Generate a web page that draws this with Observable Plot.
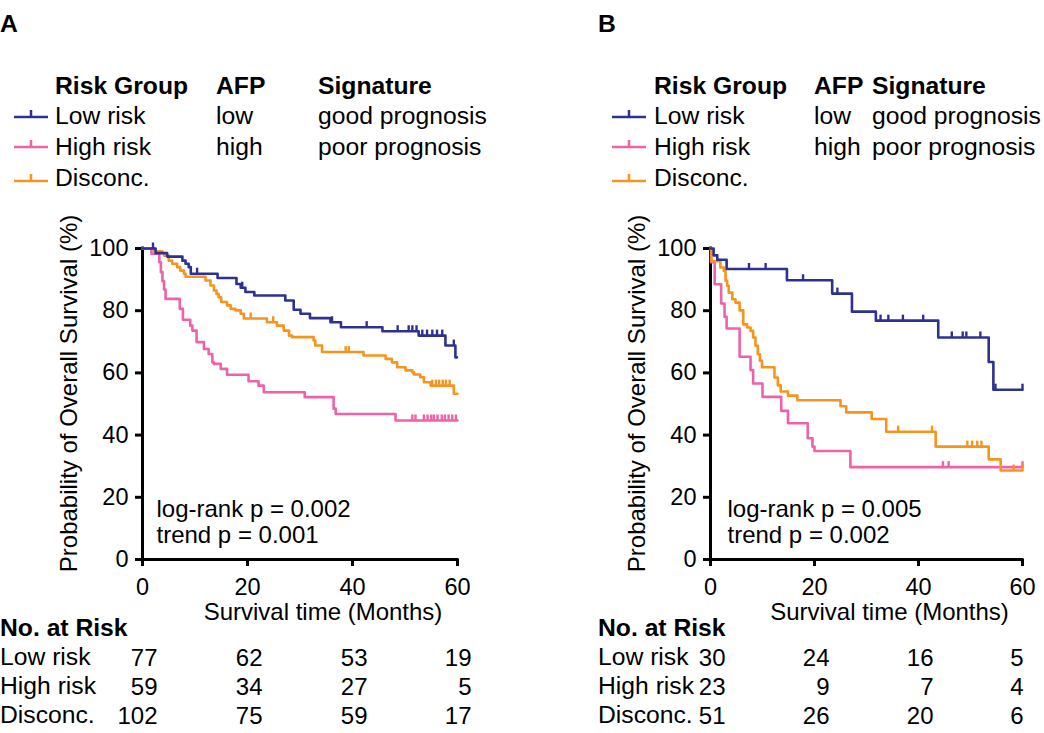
<!DOCTYPE html>
<html><head><meta charset="utf-8">
<script src="https://cdn.jsdelivr.net/npm/d3@7"></script>
<script src="https://cdn.jsdelivr.net/npm/@observablehq/plot@0.6"></script>
<style>
body{margin:0;background:#fff;}
#root{position:relative;width:1044px;height:733px;font-family:"Liberation Sans",Arial,Helvetica,sans-serif;color:#000;overflow:hidden;background:#fff;}
.abs{position:absolute;white-space:nowrap;font-size:24.7px;line-height:24px;}
.b{font-weight:bold;}
.panel{position:absolute;top:0;width:522px;height:733px;}
</style></head><body><div id="root"></div><script>
// ---------- data ----------
const groups = ["Low risk", "High risk", "Disconc."];
const afpLabels = ["low", "high", ""];
const signatureLabels = ["good prognosis", "poor prognosis", ""];
const riskTimes = [0, 20, 40, 60];
const yTicks = [0, 20, 40, 60, 80, 100];

// Panel A
const A_low_t = [0, 2.5, 4.7, 7.6, 8.2, 8.8, 9.2, 14.3, 17.9, 18.7, 19.6, 21.3, 27.2, 28.8, 30.1, 31.9, 35.8, 37.8, 45.7, 52.6, 57.7, 59.6, 59.9];
const A_low_s = [100, 98.5, 97.4, 96.1, 95.1, 94.0, 91.9, 90.5, 88.6, 87.4, 86.0, 84.9, 83.3, 80.3, 79.0, 77.6, 76.3, 74.7, 73.4, 72.0, 68.8, 65.0, 65.0];
const A_low_c = [2, 10.4, 19.0, 36.1, 42.7, 48.6, 50.7, 51.4, 52.2, 53.3, 54.2, 55.2, 56.1, 57.1, 59.3];
const A_high_t = [0, 1.7, 3.2, 3.5, 3.8, 4.1, 4.4, 7.1, 7.7, 9.1, 9.5, 10.3, 11.7, 12.6, 13.3, 13.6, 14.9, 16.1, 20.2, 22.1, 23.1, 30.9, 36.4, 36.8, 48.2, 60];
const A_high_s = [100, 98.3, 95.6, 92.4, 89.5, 86.8, 83.8, 80.6, 77.1, 75.2, 73.6, 69.9, 67.7, 66.1, 63.4, 62.9, 61.3, 59.4, 57.3, 55.9, 53.8, 52.2, 48.5, 46.8, 44.7, 44.7];
const A_high_c = [51.4, 52.0, 53.6, 54.3, 55.0, 55.5, 56.2, 57.0, 57.6, 58.3, 59.0, 59.7];
const A_disc_t = [0, 2.2, 3.75, 4.1, 5.0, 5.65, 6.6, 7.2, 7.9, 8.2, 12.0, 12.95, 13.6, 14.1, 14.5, 15.0, 16.1, 16.8, 17.7, 18.7, 19.3, 23.7, 25.6, 26.9, 27.9, 28.5, 32.6, 32.9, 34.2, 42.1, 46.3, 47.5, 48.5, 50.1, 51.4, 51.7, 52.9, 53.6, 54.9, 59.3, 60];
const A_disc_s = [100, 99.1, 98.5, 97.7, 96.1, 95.1, 94.0, 92.9, 91.9, 90.9, 89.7, 88.1, 86.5, 85.4, 84.3, 82.8, 81.7, 80.6, 80.1, 79.0, 77.5, 76.3, 75.2, 73.6, 72.0, 71.5, 70.4, 68.8, 66.7, 65.6, 64.5, 63.4, 61.8, 60.8, 60.2, 59.5, 58.6, 57.0, 55.9, 53.3, 53.3];
const A_disc_c = [20.6, 24.9, 38.7, 39.3, 55.2, 55.9, 56.5, 57.2, 57.8, 58.5];
const A_risk_low = [77, 62, 53, 19];
const A_risk_high = [59, 34, 27, 5];
const A_risk_disc = [102, 75, 59, 17];
const A_pvalues = ["log-rank p = 0.002", "trend p = 0.001"];

// Panel B
const B_low_t = [0, 0.6, 1.3, 3.1, 14.7, 23.4, 27.2, 31.8, 43.8, 53.5, 54.4, 60];
const B_low_s = [100, 97.8, 96.4, 93.4, 89.8, 85.5, 79.7, 76.8, 71.4, 63.5, 54.6, 54.6];
const B_low_c = [7.4, 10.6, 17.8, 24.4, 32.7, 34.2, 37.0, 40.9, 46.4, 48.5, 49.2, 51.9, 54.8, 60];
const B_high_t = [0, 0.1, 0.8, 2.05, 2.7, 3.1, 5.6, 7.7, 8.2, 10.0, 13.6, 14.9, 18.7, 19.6, 20.0, 26.9, 60];
const B_high_s = [100, 95.6, 88.5, 82.3, 78.0, 74.3, 65.2, 60.9, 56.6, 52.3, 47.8, 43.8, 39.0, 36.3, 34.9, 29.7, 29.7];
const B_high_c = [44.7, 45.8, 60];
const B_disc_t = [0, 0.2, 1.9, 2.56, 2.9, 3.2, 3.5, 4.2, 4.8, 5.6, 6.3, 7.05, 7.7, 8.2, 8.65, 9.1, 9.5, 9.9, 12.3, 12.95, 13.5, 14.9, 16.7, 25.0, 26.1, 31.0, 33.8, 43.3, 53.5, 55.8, 60];
const B_disc_s = [100, 95.9, 93.9, 92.8, 89.6, 88.0, 85.8, 83.7, 82.6, 80.1, 75.6, 74.6, 73.5, 71.4, 68.7, 66.0, 63.9, 61.8, 58.5, 56.0, 54.0, 52.7, 51.2, 49.3, 47.3, 45.2, 41.1, 36.3, 32.2, 28.6, 28.6];
const B_disc_c = [36.1, 42.6, 49.4, 50.3, 51.3, 52.1, 58.3, 60];
const B_risk_low = [30, 24, 16, 5];
const B_risk_high = [23, 9, 7, 4];
const B_risk_disc = [51, 26, 20, 6];
const B_pvalues = ["log-rank p = 0.005", "trend p = 0.002"];

// ---------- styling ----------
const colors = ["#2e3192", "#ef62aa", "#f7941d"];
const FONT = '"Liberation Sans", Arial, Helvetica, sans-serif';
const censorTick = { draw(ctx) { ctx.moveTo(0, 0); ctx.lineTo(0, -6); } };

function stepAt(ts, ss, t) {
  let v = ss[0];
  for (let i = 0; i < ts.length; i++) if (ts[i] <= t) v = ss[i];
  return v;
}

function kmPanel(cfg) {
  const series = [
    {g: groups[0], t: cfg.low[0], s: cfg.low[1], c: cfg.low[2]},
    {g: groups[1], t: cfg.high[0], s: cfg.high[1], c: cfg.high[2]},
    {g: groups[2], t: cfg.disc[0], s: cfg.disc[1], c: cfg.disc[2]}
  ];
  const drawOrder = [series[1], series[2], series[0]];
  const lineData = drawOrder.flatMap(ser => ser.t.map((t, i) => ({t, s: ser.s[i], g: ser.g})));
  const censorData = drawOrder.flatMap(ser => ser.c.map(t => ({t, s: stepAt(ser.t, ser.s, t), g: ser.g})));
  const rowDy = [99.3, 128.3, 157.3];
  const txt = {lineAnchor: "middle", fontSize: 24};
  const cellMarks = [];
  cfg.counts.forEach((row, r) => {
    const cells = riskTimes.map((t, j) => ({t, n: row[j]}));
    const base = {...txt, x: "t", text: d => String(d.n), frameAnchor: "bottom", textAnchor: "end", dy: rowDy[r]};
    cellMarks.push(Plot.text(cells.filter(d => d.t < 60), {...base, dx: cfg.numDx}));
    cellMarks.push(Plot.text(cells.filter(d => d.t === 60), {...base, dx: cfg.lastDx}));
  });
  return Plot.plot({
    width: 522, height: 733,
    marginLeft: cfg.ml, marginRight: cfg.mr, marginTop: 248, marginBottom: 174,
    x: {domain: [0, 60]},
    y: {domain: [0, 100]},
    color: {domain: groups, range: colors},
    style: {fontFamily: FONT, fontSize: "23px", background: "transparent", color: "#000", overflow: "visible"},
    marks: [
      Plot.axisY({ticks: yTicks, tickSize: 7, tickPadding: 7, strokeWidth: 3, label: null, fontSize: 23.5}),
      Plot.axisX({ticks: riskTimes, tickSize: 7, tickPadding: 12, strokeWidth: 3, label: null, fontSize: 23.5}),
      Plot.ruleX([0], {y1: 0, y2: 100, strokeWidth: 3, strokeLinecap: "square"}),
      Plot.ruleY([0], {x1: 0, x2: 60, strokeWidth: 3, strokeLinecap: "square"}),
      Plot.line(lineData, {x: "t", y: "s", z: "g", stroke: "g", curve: "step-after", strokeWidth: 2.6}),
      Plot.dot(censorData, {x: "t", y: "s", stroke: "g", fill: "none", symbol: censorTick, strokeWidth: 2.4}),
      Plot.text([cfg.pvals[0]], {...txt, text: d => d, frameAnchor: "bottom-left", textAnchor: "start", dx: cfg.pDx, dy: -50}),
      Plot.text([cfg.pvals[1]], {...txt, text: d => d, frameAnchor: "bottom-left", textAnchor: "start", dx: cfg.pDx, dy: -23.7}),
      Plot.text(["Survival time (Months)"], {...txt, text: d => d, frameAnchor: "bottom", textAnchor: "middle", dx: 23, dy: 53}),
      Plot.text(["Probability of Overall Survival (%)"], {...txt, text: d => d, frameAnchor: "left", textAnchor: "middle", rotate: -90, dx: -72.7, dy: -10.5}),
      ...cellMarks
    ]
  });
}

const root = document.getElementById("root");
function addText(txt, left, baseline, bold) {
  const el = document.createElement("div");
  el.className = "abs" + (bold ? " b" : "");
  el.style.left = left + "px";
  el.style.top = (baseline - 20.6) + "px";
  el.textContent = txt;
  root.appendChild(el);
}
function addSample(left, y, color) {
  const ns = "http://www.w3.org/2000/svg";
  const svg = document.createElementNS(ns, "svg");
  svg.setAttribute("width", 40); svg.setAttribute("height", 16);
  svg.style.position = "absolute";
  svg.style.left = left + "px"; svg.style.top = (y - 10) + "px";
  const l = document.createElementNS(ns, "path");
  l.setAttribute("d", "M0,10H34M17,10V3");
  l.setAttribute("stroke", color); l.setAttribute("stroke-width", 2.5); l.setAttribute("fill", "none");
  svg.appendChild(l);
  root.appendChild(svg);
}

const panels = [
  {left: 0, letter: "A", ox: 0, cols: [55, 216, 318], ml: 142, mr: 65, numDx: 15, lastDx: 14, pDx: 14,
   low: [A_low_t, A_low_s, A_low_c], high: [A_high_t, A_high_s, A_high_c], disc: [A_disc_t, A_disc_s, A_disc_c],
   counts: [A_risk_low, A_risk_high, A_risk_disc], pvals: A_pvalues},
  {left: 522, letter: "B", ox: 598, cols: [654, 814, 872], ml: 188, mr: 22, numDx: 15, lastDx: 1, pDx: 17,
   low: [B_low_t, B_low_s, B_low_c], high: [B_high_t, B_high_s, B_high_c], disc: [B_disc_t, B_disc_s, B_disc_c],
   counts: [B_risk_low, B_risk_high, B_risk_disc], pvals: B_pvalues}
];

const rowBase = [125, 156, 187];
const lineYs = [117, 147, 181];
const tableBase = [666, 695, 724];
for (const p of panels) {
  const div = document.createElement("div");
  div.className = "panel";
  div.style.left = p.left + "px";
  div.appendChild(kmPanel(p));
  root.appendChild(div);
  const ox = p.ox;
  addText(p.letter, ox, 33, true);
  addText("Risk Group", p.cols[0], 95, true);
  addText("AFP", p.cols[1], 95, true);
  addText("Signature", p.cols[2], 95, true);
  groups.forEach((g, i) => {
    addSample(ox + 14, lineYs[i], colors[i]);
    addText(g, p.cols[0], rowBase[i]);
    if (afpLabels[i]) addText(afpLabels[i], p.cols[1], rowBase[i]);
    if (signatureLabels[i]) addText(signatureLabels[i], p.cols[2], rowBase[i]);
  });
  addText("No. at Risk", ox, 637, true);
  groups.forEach((g, i) => addText(g, ox, tableBase[i]));
}
</script></body></html>
